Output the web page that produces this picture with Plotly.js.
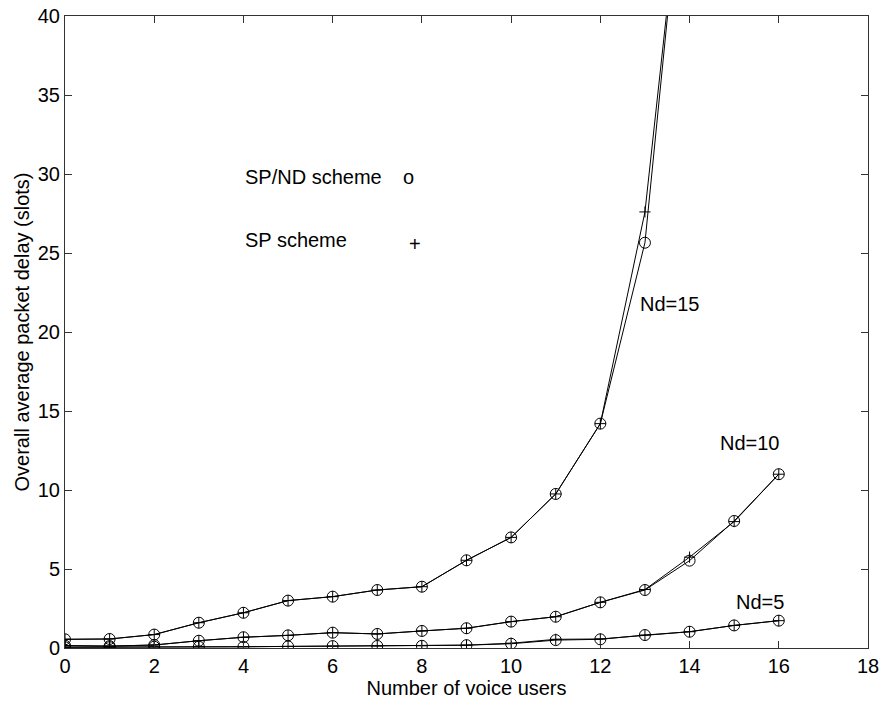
<!DOCTYPE html>
<html>
<head>
<meta charset="utf-8">
<script src="https://cdn.plot.ly/plotly-3.0.1.min.js"></script>
<style>html,body{margin:0;padding:0;background:#fff;}#chart{width:883px;height:702px;}</style>
</head>
<body>
<div id="chart"></div>
<script>
// Number of voice users
const users15 = [0,1,2,3,4,5,6,7,8,9,10,11,12,13,14];
const users = [0,1,2,3,4,5,6,7,8,9,10,11,12,13,14,15,16];

// Overall average packet delay (slots)
const nd15_spnd = [0.55,0.57,0.85,1.6,2.23,3.0,3.25,3.67,3.88,5.55,7.0,9.75,14.2,25.65,54];
const nd15_sp   = [0.55,0.57,0.85,1.6,2.23,3.0,3.25,3.67,3.88,5.55,7.0,9.75,14.2,27.6,53.5];
const nd10_spnd = [0.15,0.12,0.19,0.46,0.68,0.8,0.97,0.89,1.08,1.25,1.67,1.98,2.89,3.67,5.53,8.04,11.0];
const nd10_sp   = [0.15,0.12,0.19,0.46,0.68,0.8,0.97,0.89,1.08,1.25,1.67,1.98,2.89,3.7,5.75,8.0,11.0];
const nd5_spnd  = [0.05,0.05,0.08,0.08,0.08,0.1,0.12,0.13,0.14,0.18,0.27,0.5,0.55,0.82,1.03,1.43,1.73];
const nd5_sp    = [0.05,0.05,0.08,0.08,0.08,0.1,0.12,0.13,0.14,0.18,0.3,0.55,0.57,0.82,1.03,1.43,1.73];

const xTicks = [0,2,4,6,8,10,12,14,16,18];
const yTicks = [0,5,10,15,20,25,30,35,40];

const FONT = 'Liberation Sans, Arial, Helvetica, sans-serif';
const FS = 20;
const circ = {symbol:'circle-open', size:11, color:'#000', line:{width:1, color:'#000'}};
const plus = {symbol:'cross-thin-open', size:8, color:'#000', line:{width:1, color:'#000'}};
function tr(x, y, m){ return {x:x, y:y, type:'scatter', mode:'lines+markers', line:{color:'#000', width:1}, marker:m, showlegend:false, hoverinfo:'none'}; }

const data = [
  tr(users15, nd15_spnd, circ), tr(users15, nd15_sp, plus),
  tr(users, nd10_spnd, circ), tr(users, nd10_sp, plus),
  tr(users, nd5_spnd, circ), tr(users, nd5_sp, plus)
];

const ann = (x, y, t, xa) => ({x:x, y:y, xref:'x', yref:'y', text:t, showarrow:false, xanchor:xa||'center', yanchor:'middle', font:{family:FONT, size:FS, color:'#000'}});

const layout = {
  width:883, height:702,
  margin:{l:65, r:15, t:16, b:54},
  paper_bgcolor:'#fff', plot_bgcolor:'#fff',
  font:{family:FONT, size:FS, color:'#000'},
  xaxis:{range:[0,18], tickvals:xTicks, ticktext:xTicks.map(String), ticks:'inside', ticklen:7, tickcolor:'#333',
         showline:true, linecolor:'#333', linewidth:1, mirror:'ticks', showgrid:false, zeroline:false,
         title:{text:'Number of voice users', font:{family:FONT, size:FS}, standoff:0}},
  yaxis:{range:[0,40], tickvals:yTicks, ticktext:yTicks.map(String), ticks:'inside', ticklen:7, tickcolor:'#333',
         showline:true, linecolor:'#333', linewidth:1, mirror:'ticks', showgrid:false, zeroline:false,
         title:{text:'Overall average packet delay (slots)', font:{family:FONT, size:FS}, standoff:2}},
  annotations:[
    ann(13.56, 21.8, 'Nd=15'),
    ann(15.36, 13.0, 'Nd=10'),
    ann(15.58, 2.93, 'Nd=5'),
    ann(4.0, 29.8, 'SP/ND scheme', 'left'),
    ann(7.71, 29.8, 'o'),
    ann(4.0, 25.8, 'SP scheme', 'left'),
    ann(7.85, 25.6, '+')
  ]
};
Plotly.newPlot('chart', data, layout, {staticPlot:true});
</script>
</body>
</html>
